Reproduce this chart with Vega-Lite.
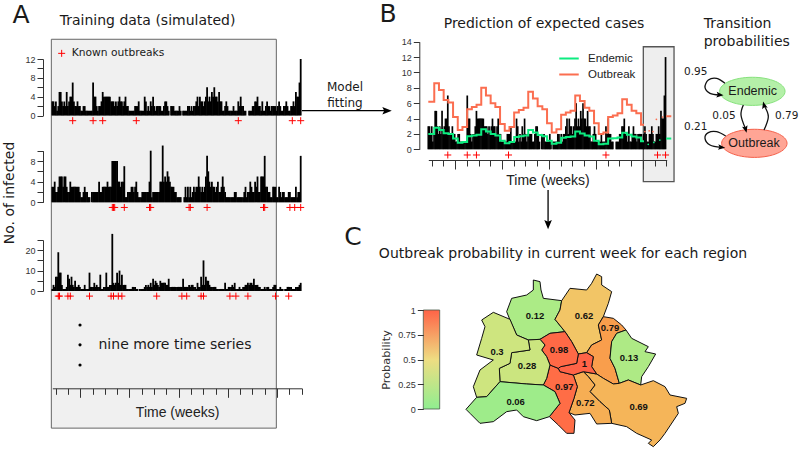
{"$schema":"https://vega.github.io/schema/vega-lite/v6.json","width":800,"height":459,"padding":0,"autosize":{"type":"none"},"background":"white",
"config":{"view":{"stroke":null},"axis":{"grid":false,"labelFont":"Liberation Sans","labelFontSize":9,"labelColor":"#333","tickColor":"#333","domainColor":"#333","tickSize":6,"labelPadding":2,"title":null,"labelOverlap":false,"labelBound":false,"labelFlush":false},"text":{"font":"DejaVu Sans","color":"#1a1a1a"}},
"resolve":{"scale":{"x":"independent","y":"independent","color":"independent"}},
"datasets":{
"s1":[{"w":0,"n":3},{"w":1,"n":3},{"w":2,"n":2},{"w":3,"n":3},{"w":4,"n":1},{"w":5,"n":2},{"w":6,"n":5},{"w":7,"n":5},{"w":8,"n":3},{"w":9,"n":2},{"w":10,"n":3},{"w":11,"n":2},{"w":12,"n":5},{"w":13,"n":2},{"w":14,"n":3},{"w":15,"n":4},{"w":16,"n":4},{"w":17,"n":7},{"w":18,"n":3},{"w":19,"n":2},{"w":20,"n":2},{"w":21,"n":3},{"w":22,"n":2},{"w":23,"n":2},{"w":24,"n":1},{"w":25,"n":1},{"w":26,"n":2},{"w":27,"n":2},{"w":28,"n":1},{"w":29,"n":1},{"w":30,"n":1},{"w":31,"n":1},{"w":32,"n":1},{"w":33,"n":1},{"w":34,"n":7},{"w":35,"n":4},{"w":36,"n":4},{"w":37,"n":2},{"w":38,"n":1},{"w":39,"n":2},{"w":40,"n":2},{"w":41,"n":3},{"w":42,"n":5},{"w":43,"n":4},{"w":44,"n":4},{"w":45,"n":4},{"w":46,"n":4},{"w":47,"n":4},{"w":48,"n":4},{"w":49,"n":3},{"w":50,"n":3},{"w":51,"n":3},{"w":52,"n":2},{"w":53,"n":3},{"w":54,"n":2},{"w":55,"n":3},{"w":56,"n":4},{"w":57,"n":3},{"w":58,"n":3},{"w":59,"n":2},{"w":60,"n":3},{"w":61,"n":4},{"w":62,"n":2},{"w":63,"n":2},{"w":64,"n":1},{"w":65,"n":1},{"w":66,"n":1},{"w":67,"n":1},{"w":68,"n":1},{"w":69,"n":2},{"w":70,"n":2},{"w":71,"n":2},{"w":72,"n":3},{"w":73,"n":1},{"w":74,"n":1},{"w":75,"n":1},{"w":76,"n":1},{"w":77,"n":4},{"w":78,"n":3},{"w":79,"n":1},{"w":80,"n":2},{"w":81,"n":1},{"w":82,"n":3},{"w":83,"n":2},{"w":84,"n":4},{"w":85,"n":2},{"w":86,"n":1},{"w":87,"n":2},{"w":88,"n":2},{"w":89,"n":2},{"w":90,"n":2},{"w":91,"n":1},{"w":92,"n":1},{"w":93,"n":2},{"w":94,"n":3},{"w":95,"n":3},{"w":96,"n":2},{"w":97,"n":1},{"w":98,"n":0},{"w":99,"n":2},{"w":100,"n":2},{"w":101,"n":2},{"w":102,"n":1},{"w":103,"n":1},{"w":104,"n":1},{"w":105,"n":1},{"w":106,"n":2},{"w":107,"n":1},{"w":108,"n":0},{"w":109,"n":1},{"w":110,"n":1},{"w":111,"n":1},{"w":112,"n":1},{"w":113,"n":2},{"w":114,"n":2},{"w":115,"n":1},{"w":116,"n":2},{"w":117,"n":1},{"w":118,"n":2},{"w":119,"n":2},{"w":120,"n":3},{"w":121,"n":4},{"w":122,"n":2},{"w":123,"n":4},{"w":124,"n":3},{"w":125,"n":3},{"w":126,"n":2},{"w":127,"n":3},{"w":128,"n":4},{"w":129,"n":6},{"w":130,"n":3},{"w":131,"n":4},{"w":132,"n":3},{"w":133,"n":5},{"w":134,"n":4},{"w":135,"n":6},{"w":136,"n":4},{"w":137,"n":4},{"w":138,"n":3},{"w":139,"n":5},{"w":140,"n":3},{"w":141,"n":3},{"w":142,"n":1},{"w":143,"n":1},{"w":144,"n":2},{"w":145,"n":3},{"w":146,"n":2},{"w":147,"n":1},{"w":148,"n":1},{"w":149,"n":1},{"w":150,"n":1},{"w":151,"n":2},{"w":152,"n":1},{"w":153,"n":1},{"w":154,"n":1},{"w":155,"n":3},{"w":156,"n":2},{"w":157,"n":4},{"w":158,"n":2},{"w":159,"n":2},{"w":160,"n":1},{"w":161,"n":1},{"w":162,"n":0},{"w":163,"n":0},{"w":164,"n":1},{"w":165,"n":1},{"w":166,"n":1},{"w":167,"n":2},{"w":168,"n":2},{"w":169,"n":3},{"w":170,"n":3},{"w":171,"n":4},{"w":172,"n":2},{"w":173,"n":2},{"w":174,"n":1},{"w":175,"n":3},{"w":176,"n":1},{"w":177,"n":1},{"w":178,"n":2},{"w":179,"n":3},{"w":180,"n":2},{"w":181,"n":2},{"w":182,"n":1},{"w":183,"n":2},{"w":184,"n":2},{"w":185,"n":2},{"w":186,"n":2},{"w":187,"n":1},{"w":188,"n":2},{"w":189,"n":3},{"w":190,"n":2},{"w":191,"n":1},{"w":192,"n":1},{"w":193,"n":2},{"w":194,"n":2},{"w":195,"n":3},{"w":196,"n":2},{"w":197,"n":1},{"w":198,"n":1},{"w":199,"n":2},{"w":200,"n":2},{"w":201,"n":3},{"w":202,"n":2},{"w":203,"n":5},{"w":204,"n":4},{"w":205,"n":4},{"w":206,"n":7},{"w":207,"n":12}],
"s2":[{"w":0,"n":3},{"w":1,"n":3},{"w":2,"n":4},{"w":3,"n":2},{"w":4,"n":2},{"w":5,"n":3},{"w":6,"n":5},{"w":7,"n":5},{"w":8,"n":5},{"w":9,"n":3},{"w":10,"n":5},{"w":11,"n":5},{"w":12,"n":3},{"w":13,"n":2},{"w":14,"n":2},{"w":15,"n":4},{"w":16,"n":3},{"w":17,"n":3},{"w":18,"n":3},{"w":19,"n":3},{"w":20,"n":3},{"w":21,"n":3},{"w":22,"n":3},{"w":23,"n":2},{"w":24,"n":1},{"w":25,"n":1},{"w":26,"n":2},{"w":27,"n":3},{"w":28,"n":2},{"w":29,"n":2},{"w":30,"n":1},{"w":31,"n":1},{"w":32,"n":0},{"w":33,"n":2},{"w":34,"n":2},{"w":35,"n":2},{"w":36,"n":2},{"w":37,"n":2},{"w":38,"n":2},{"w":39,"n":4},{"w":40,"n":2},{"w":41,"n":2},{"w":42,"n":3},{"w":43,"n":3},{"w":44,"n":3},{"w":45,"n":3},{"w":46,"n":4},{"w":47,"n":3},{"w":48,"n":3},{"w":49,"n":3},{"w":50,"n":8},{"w":51,"n":8},{"w":52,"n":8},{"w":53,"n":8},{"w":54,"n":8},{"w":55,"n":4},{"w":56,"n":4},{"w":57,"n":3},{"w":58,"n":4},{"w":59,"n":4},{"w":60,"n":7},{"w":61,"n":1},{"w":62,"n":1},{"w":63,"n":2},{"w":64,"n":2},{"w":65,"n":2},{"w":66,"n":3},{"w":67,"n":3},{"w":68,"n":2},{"w":69,"n":3},{"w":70,"n":4},{"w":71,"n":2},{"w":72,"n":1},{"w":73,"n":1},{"w":74,"n":1},{"w":75,"n":2},{"w":76,"n":2},{"w":77,"n":2},{"w":78,"n":2},{"w":79,"n":2},{"w":80,"n":2},{"w":81,"n":4},{"w":82,"n":10},{"w":83,"n":1},{"w":84,"n":2},{"w":85,"n":2},{"w":86,"n":2},{"w":87,"n":2},{"w":88,"n":2},{"w":89,"n":2},{"w":90,"n":4},{"w":91,"n":4},{"w":92,"n":11},{"w":93,"n":4},{"w":94,"n":5},{"w":95,"n":4},{"w":96,"n":6},{"w":97,"n":5},{"w":98,"n":4},{"w":99,"n":3},{"w":100,"n":3},{"w":101,"n":3},{"w":102,"n":2},{"w":103,"n":2},{"w":104,"n":1},{"w":105,"n":1},{"w":106,"n":1},{"w":107,"n":1},{"w":108,"n":0},{"w":109,"n":0},{"w":110,"n":1},{"w":111,"n":3},{"w":112,"n":1},{"w":113,"n":3},{"w":114,"n":1},{"w":115,"n":3},{"w":116,"n":1},{"w":117,"n":2},{"w":118,"n":3},{"w":119,"n":2},{"w":120,"n":3},{"w":121,"n":3},{"w":122,"n":5},{"w":123,"n":3},{"w":124,"n":2},{"w":125,"n":3},{"w":126,"n":2},{"w":127,"n":3},{"w":128,"n":5},{"w":129,"n":9},{"w":130,"n":6},{"w":131,"n":4},{"w":132,"n":3},{"w":133,"n":4},{"w":134,"n":3},{"w":135,"n":3},{"w":136,"n":2},{"w":137,"n":3},{"w":138,"n":4},{"w":139,"n":2},{"w":140,"n":2},{"w":141,"n":3},{"w":142,"n":5},{"w":143,"n":3},{"w":144,"n":2},{"w":145,"n":1},{"w":146,"n":1},{"w":147,"n":1},{"w":148,"n":1},{"w":149,"n":1},{"w":150,"n":1},{"w":151,"n":1},{"w":152,"n":2},{"w":153,"n":2},{"w":154,"n":1},{"w":155,"n":1},{"w":156,"n":1},{"w":157,"n":1},{"w":158,"n":1},{"w":159,"n":1},{"w":160,"n":2},{"w":161,"n":3},{"w":162,"n":1},{"w":163,"n":2},{"w":164,"n":2},{"w":165,"n":4},{"w":166,"n":3},{"w":167,"n":2},{"w":168,"n":2},{"w":169,"n":4},{"w":170,"n":3},{"w":171,"n":5},{"w":172,"n":2},{"w":173,"n":2},{"w":174,"n":5},{"w":175,"n":5},{"w":176,"n":5},{"w":177,"n":9},{"w":178,"n":3},{"w":179,"n":3},{"w":180,"n":2},{"w":181,"n":2},{"w":182,"n":1},{"w":183,"n":1},{"w":184,"n":3},{"w":185,"n":3},{"w":186,"n":3},{"w":187,"n":1},{"w":188,"n":1},{"w":189,"n":3},{"w":190,"n":2},{"w":191,"n":1},{"w":192,"n":2},{"w":193,"n":2},{"w":194,"n":1},{"w":195,"n":1},{"w":196,"n":1},{"w":197,"n":2},{"w":198,"n":2},{"w":199,"n":1},{"w":200,"n":1},{"w":201,"n":1},{"w":202,"n":1},{"w":203,"n":3},{"w":204,"n":1},{"w":205,"n":2},{"w":206,"n":2},{"w":207,"n":9}],
"s3":[{"w":0,"n":1},{"w":1,"n":3},{"w":2,"n":2},{"w":3,"n":7},{"w":4,"n":7},{"w":5,"n":19},{"w":6,"n":9},{"w":7,"n":9},{"w":8,"n":3},{"w":9,"n":1},{"w":10,"n":1},{"w":11,"n":1},{"w":12,"n":2},{"w":13,"n":8},{"w":14,"n":6},{"w":15,"n":3},{"w":16,"n":7},{"w":17,"n":3},{"w":18,"n":2},{"w":19,"n":5},{"w":20,"n":2},{"w":21,"n":2},{"w":22,"n":3},{"w":23,"n":2},{"w":24,"n":1},{"w":25,"n":1},{"w":26,"n":1},{"w":27,"n":3},{"w":28,"n":1},{"w":29,"n":1},{"w":30,"n":1},{"w":31,"n":9},{"w":32,"n":2},{"w":33,"n":2},{"w":34,"n":2},{"w":35,"n":4},{"w":36,"n":2},{"w":37,"n":3},{"w":38,"n":2},{"w":39,"n":2},{"w":40,"n":8},{"w":41,"n":1},{"w":42,"n":1},{"w":43,"n":2},{"w":44,"n":2},{"w":45,"n":9},{"w":46,"n":2},{"w":47,"n":2},{"w":48,"n":3},{"w":49,"n":3},{"w":50,"n":28},{"w":51,"n":4},{"w":52,"n":3},{"w":53,"n":4},{"w":54,"n":9},{"w":55,"n":4},{"w":56,"n":10},{"w":57,"n":3},{"w":58,"n":8},{"w":59,"n":3},{"w":60,"n":3},{"w":61,"n":3},{"w":62,"n":1},{"w":63,"n":1},{"w":64,"n":1},{"w":65,"n":1},{"w":66,"n":1},{"w":67,"n":2},{"w":68,"n":2},{"w":69,"n":2},{"w":70,"n":1},{"w":71,"n":1},{"w":72,"n":0},{"w":73,"n":1},{"w":74,"n":1},{"w":75,"n":1},{"w":76,"n":1},{"w":77,"n":2},{"w":78,"n":3},{"w":79,"n":2},{"w":80,"n":3},{"w":81,"n":2},{"w":82,"n":4},{"w":83,"n":2},{"w":84,"n":6},{"w":85,"n":3},{"w":86,"n":5},{"w":87,"n":4},{"w":88,"n":3},{"w":89,"n":2},{"w":90,"n":5},{"w":91,"n":4},{"w":92,"n":4},{"w":93,"n":4},{"w":94,"n":4},{"w":95,"n":3},{"w":96,"n":3},{"w":97,"n":6},{"w":98,"n":2},{"w":99,"n":2},{"w":100,"n":2},{"w":101,"n":2},{"w":102,"n":2},{"w":103,"n":2},{"w":104,"n":2},{"w":105,"n":2},{"w":106,"n":2},{"w":107,"n":2},{"w":108,"n":2},{"w":109,"n":6},{"w":110,"n":2},{"w":111,"n":2},{"w":112,"n":2},{"w":113,"n":2},{"w":114,"n":3},{"w":115,"n":2},{"w":116,"n":3},{"w":117,"n":3},{"w":118,"n":2},{"w":119,"n":2},{"w":120,"n":1},{"w":121,"n":4},{"w":122,"n":2},{"w":123,"n":2},{"w":124,"n":7},{"w":125,"n":3},{"w":126,"n":15},{"w":127,"n":3},{"w":128,"n":7},{"w":129,"n":5},{"w":130,"n":5},{"w":131,"n":3},{"w":132,"n":2},{"w":133,"n":2},{"w":134,"n":2},{"w":135,"n":2},{"w":136,"n":2},{"w":137,"n":1},{"w":138,"n":1},{"w":139,"n":1},{"w":140,"n":1},{"w":141,"n":1},{"w":142,"n":1},{"w":143,"n":1},{"w":144,"n":4},{"w":145,"n":1},{"w":146,"n":1},{"w":147,"n":2},{"w":148,"n":2},{"w":149,"n":2},{"w":150,"n":3},{"w":151,"n":2},{"w":152,"n":4},{"w":153,"n":1},{"w":154,"n":1},{"w":155,"n":1},{"w":156,"n":2},{"w":157,"n":1},{"w":158,"n":1},{"w":159,"n":2},{"w":160,"n":2},{"w":161,"n":3},{"w":162,"n":3},{"w":163,"n":4},{"w":164,"n":3},{"w":165,"n":4},{"w":166,"n":4},{"w":167,"n":3},{"w":168,"n":6},{"w":169,"n":3},{"w":170,"n":3},{"w":171,"n":3},{"w":172,"n":2},{"w":173,"n":2},{"w":174,"n":1},{"w":175,"n":1},{"w":176,"n":1},{"w":177,"n":2},{"w":178,"n":1},{"w":179,"n":2},{"w":180,"n":2},{"w":181,"n":1},{"w":182,"n":1},{"w":183,"n":1},{"w":184,"n":2},{"w":185,"n":3},{"w":186,"n":3},{"w":187,"n":1},{"w":188,"n":1},{"w":189,"n":1},{"w":190,"n":2},{"w":191,"n":1},{"w":192,"n":1},{"w":193,"n":0},{"w":194,"n":1},{"w":195,"n":1},{"w":196,"n":2},{"w":197,"n":2},{"w":198,"n":2},{"w":199,"n":2},{"w":200,"n":1},{"w":201,"n":1},{"w":202,"n":1},{"w":203,"n":2},{"w":204,"n":2},{"w":205,"n":2},{"w":206,"n":3},{"w":207,"n":4}],
"expected":[{"w":0,"n":6.2,"series":"Outbreak"},{"w":5.2,"n":8.6,"series":"Outbreak"},{"w":9.3,"n":7.7,"series":"Outbreak"},{"w":13.4,"n":6.4,"series":"Outbreak"},{"w":17.5,"n":6.1,"series":"Outbreak"},{"w":21.6,"n":4.2,"series":"Outbreak"},{"w":25.7,"n":2.5,"series":"Outbreak"},{"w":29.8,"n":2.9,"series":"Outbreak"},{"w":33.9,"n":5.2,"series":"Outbreak"},{"w":38,"n":5.5,"series":"Outbreak"},{"w":42.1,"n":5.8,"series":"Outbreak"},{"w":46.2,"n":8,"series":"Outbreak"},{"w":50.3,"n":7,"series":"Outbreak"},{"w":54.4,"n":6,"series":"Outbreak"},{"w":58.5,"n":5.5,"series":"Outbreak"},{"w":62.6,"n":3.3,"series":"Outbreak"},{"w":66.7,"n":2.4,"series":"Outbreak"},{"w":70.8,"n":2.9,"series":"Outbreak"},{"w":74.9,"n":4.8,"series":"Outbreak"},{"w":79,"n":5.1,"series":"Outbreak"},{"w":83.1,"n":5.4,"series":"Outbreak"},{"w":87.2,"n":7.5,"series":"Outbreak"},{"w":91.3,"n":6.6,"series":"Outbreak"},{"w":95.4,"n":5.6,"series":"Outbreak"},{"w":99.5,"n":5.2,"series":"Outbreak"},{"w":103.6,"n":3.4,"series":"Outbreak"},{"w":107.7,"n":2.2,"series":"Outbreak"},{"w":111.8,"n":2.6,"series":"Outbreak"},{"w":115.9,"n":4.5,"series":"Outbreak"},{"w":120,"n":4.8,"series":"Outbreak"},{"w":124.1,"n":5,"series":"Outbreak"},{"w":128.2,"n":7,"series":"Outbreak"},{"w":132.3,"n":6.3,"series":"Outbreak"},{"w":136.4,"n":5.4,"series":"Outbreak"},{"w":140.5,"n":5,"series":"Outbreak"},{"w":144.6,"n":3.4,"series":"Outbreak"},{"w":148.7,"n":2,"series":"Outbreak"},{"w":152.8,"n":2.2,"series":"Outbreak"},{"w":156.9,"n":4.2,"series":"Outbreak"},{"w":161,"n":4.4,"series":"Outbreak"},{"w":165.1,"n":4.7,"series":"Outbreak"},{"w":169.2,"n":6.5,"series":"Outbreak"},{"w":173.3,"n":5.8,"series":"Outbreak"},{"w":177.4,"n":5,"series":"Outbreak"},{"w":181.5,"n":4.7,"series":"Outbreak"},{"w":185.6,"n":3.2,"series":"Outbreak"},{"w":188.2,"n":3.2,"series":"Outbreak"},
{"w":0,"n":2,"series":"Endemic"},{"w":5.2,"n":2.8,"series":"Endemic"},{"w":9.3,"n":2.5,"series":"Endemic"},{"w":13.4,"n":2.1,"series":"Endemic"},{"w":17.5,"n":2,"series":"Endemic"},{"w":21.6,"n":1.4,"series":"Endemic"},{"w":25.7,"n":0.85,"series":"Endemic"},{"w":29.8,"n":0.95,"series":"Endemic"},{"w":33.9,"n":1.7,"series":"Endemic"},{"w":38,"n":1.8,"series":"Endemic"},{"w":42.1,"n":1.9,"series":"Endemic"},{"w":46.2,"n":2.6,"series":"Endemic"},{"w":50.3,"n":2.3,"series":"Endemic"},{"w":54.4,"n":2,"series":"Endemic"},{"w":58.5,"n":1.8,"series":"Endemic"},{"w":62.6,"n":1.1,"series":"Endemic"},{"w":66.7,"n":0.8,"series":"Endemic"},{"w":70.8,"n":0.95,"series":"Endemic"},{"w":74.9,"n":1.6,"series":"Endemic"},{"w":79,"n":1.7,"series":"Endemic"},{"w":83.1,"n":1.8,"series":"Endemic"},{"w":87.2,"n":2.5,"series":"Endemic"},{"w":91.3,"n":2.2,"series":"Endemic"},{"w":95.4,"n":1.85,"series":"Endemic"},{"w":99.5,"n":1.7,"series":"Endemic"},{"w":103.6,"n":1.1,"series":"Endemic"},{"w":107.7,"n":0.73,"series":"Endemic"},{"w":111.8,"n":0.85,"series":"Endemic"},{"w":115.9,"n":1.5,"series":"Endemic"},{"w":120,"n":1.6,"series":"Endemic"},{"w":124.1,"n":1.65,"series":"Endemic"},{"w":128.2,"n":2.3,"series":"Endemic"},{"w":132.3,"n":2.05,"series":"Endemic"},{"w":136.4,"n":1.8,"series":"Endemic"},{"w":140.5,"n":1.65,"series":"Endemic"},{"w":144.6,"n":1.1,"series":"Endemic"},{"w":148.7,"n":0.66,"series":"Endemic"},{"w":152.8,"n":0.73,"series":"Endemic"},{"w":156.9,"n":1.4,"series":"Endemic"},{"w":161,"n":1.45,"series":"Endemic"},{"w":165.1,"n":1.55,"series":"Endemic"},{"w":169.2,"n":2.15,"series":"Endemic"},{"w":173.3,"n":1.9,"series":"Endemic"},{"w":177.4,"n":1.65,"series":"Endemic"},{"w":181.5,"n":1.55,"series":"Endemic"},{"w":185.6,"n":1.05,"series":"Endemic"},{"w":188.2,"n":1.05,"series":"Endemic"}],
"map":[
{"type":"Feature","properties":{"prob":0.12},"geometry":{"type":"Polygon","coordinates":[[[490,30],[510,35],[513,60],[520,85],[575,92],[570,120],[555,148],[585,185],[540,190],[510,208],[475,210],[440,195],[420,150],[410,125],[425,85],[470,75],[490,60],[490,30]]]}},
{"type":"Feature","properties":{"prob":0.62},"geometry":{"type":"Polygon","coordinates":[[[575,92],[600,55],[650,60],[665,40],[680,12],[695,20],[695,45],[725,65],[715,100],[700,140],[685,165],[695,210],[665,225],[650,248],[625,252],[605,215],[585,185],[555,148],[570,120],[575,92]]]}},
{"type":"Feature","properties":{"prob":0.79},"geometry":{"type":"Polygon","coordinates":[[[700,140],[730,145],[755,165],[768,180],[740,190],[725,215],[720,265],[735,295],[748,340],[730,342],[700,325],[680,312],[665,290],[670,260],[650,248],[665,225],[695,210],[685,165],[700,140]]]}},
{"type":"Feature","properties":{"prob":0.13},"geometry":{"type":"Polygon","coordinates":[[[768,180],[785,205],[835,230],[825,245],[857,252],[835,290],[815,320],[812,345],[775,330],[748,340],[735,295],[720,265],[725,215],[740,190],[768,180]]]}},
{"type":"Feature","properties":{"prob":0.69},"geometry":{"type":"Polygon","coordinates":[[[640,305],[680,312],[700,325],[730,342],[748,340],[775,330],[812,345],[850,332],[885,350],[900,375],[950,385],[945,400],[920,410],[925,430],[885,490],[870,510],[850,530],[835,520],[845,510],[800,490],[770,470],[725,460],[718,420],[690,395],[660,365],[675,345],[655,320],[640,305]]]}},
{"type":"Feature","properties":{"prob":0.72},"geometry":{"type":"Polygon","coordinates":[[[610,315],[640,305],[655,320],[675,345],[660,365],[690,395],[718,420],[725,460],[680,462],[660,430],[615,435],[597,428],[612,385],[622,350],[610,315]]]}},
{"type":"Feature","properties":{"prob":0.97},"geometry":{"type":"Polygon","coordinates":[[[540,285],[565,295],[570,305],[610,315],[622,350],[612,385],[597,428],[615,450],[612,490],[590,490],[565,465],[538,440],[570,400],[555,365],[520,345],[530,325],[540,285]]]}},
{"type":"Feature","properties":{"prob":1},"geometry":{"type":"Polygon","coordinates":[[[625,252],[650,248],[670,260],[665,290],[680,312],[640,305],[610,315],[570,305],[565,295],[572,290],[620,280],[625,252]]]}},
{"type":"Feature","properties":{"prob":0.98},"geometry":{"type":"Polygon","coordinates":[[[510,208],[540,190],[585,185],[605,215],[625,252],[620,280],[572,290],[565,295],[540,285],[530,260],[515,240],[525,225],[510,208]]]}},
{"type":"Feature","properties":{"prob":0.28},"geometry":{"type":"Polygon","coordinates":[[[475,210],[510,208],[525,225],[515,240],[530,260],[540,285],[530,325],[520,345],[470,342],[390,335],[388,295],[420,280],[425,248],[480,240],[475,210]]]}},
{"type":"Feature","properties":{"prob":0.3},"geometry":{"type":"Polygon","coordinates":[[[335,150],[370,127],[420,148],[440,195],[475,210],[480,240],[425,248],[420,280],[388,295],[390,335],[350,380],[320,382],[310,350],[330,300],[370,270],[320,255],[335,205],[345,170],[335,150]]]}},
{"type":"Feature","properties":{"prob":0.06},"geometry":{"type":"Polygon","coordinates":[[[320,382],[350,380],[390,335],[470,342],[520,345],[555,365],[570,400],[538,440],[500,452],[460,440],[440,420],[410,425],[370,455],[330,460],[300,430],[288,418],[320,382]]]}}],
"mapLabels":[{"lon":495,"lat":137,"prob":"0.12"},{"lon":642,"lat":137,"prob":"0.62"},{"lon":720,"lat":173,"prob":"0.79"},{"lon":567,"lat":240,"prob":"0.98"},{"lon":777,"lat":263,"prob":"0.13"},{"lon":381,"lat":247,"prob":"0.3"},{"lon":471,"lat":288,"prob":"0.28"},{"lon":643,"lat":283,"prob":"1"},{"lon":583,"lat":350,"prob":"0.97"},{"lon":646,"lat":400,"prob":"0.72"},{"lon":806,"lat":412,"prob":"0.69"},{"lon":437,"lat":395,"prob":"0.06"}]
},
"layer":[
{"encoding":{"x":{"field":"w","type":"quantitative","scale":{"domain":[0,208],"range":[52.3,301.9],"nice":false,"padding":0},"axis":{"orient":"bottom","offset":-70.7,"zindex":1,"values":[2.8,13.05,23.3,33.55,43.8,54.05,64.3,74.55,84.8,95.05,105.3,115.55,125.8,136.05,146.3,156.55,166.8,177.05,187.3,197.55,207.8],"labels":false,"tickSize":{"condition":{"test":"indexof([23.3,64.3,105.3,146.3,187.3],datum.value)>=0","value":9},"value":6},"title":"Time (weeks)","titleFont":"Liberation Sans","titleFontSize":14,"titleFontWeight":"normal","titleColor":"#222","titlePadding":8}},
"y":{"field":"n","type":"quantitative","scale":{"domain":[0,12],"range":[115.5,59],"nice":false},"axis":{"orient":"left","offset":-43,"zindex":1,"values":[0,2,4,6,8,10,12],"labelExpr":"datum.value%4==0?datum.value:''"}}},
"layer":[
{"data":{"values":[{"w":-0.8,"w2":186.7,"n":16.19,"n2":-66.4}]},"mark":{"type":"rect","fill":"#f0f0f0","stroke":"#666","strokeWidth":1},"encoding":{"x2":{"field":"w2"},"y2":{"field":"n2"}}},
{"data":{"name":"s1"},"mark":{"type":"bar","width":1.8,"color":"#000"}},
{"data":{"values":[{"w":17,"n":-1.1},{"w":34,"n":-1.1},{"w":42,"n":-1.1},{"w":70,"n":-1.1},{"w":155,"n":-1.1},{"w":200,"n":-1.1},{"w":207,"n":-1.1},{"w":7.8,"n":13.2}]},"mark":{"type":"point","shape":"M-1,0H1M0,-1V1","filled":false,"stroke":"#f00","size":49,"strokeWidth":1,"opacity":1}},
{"data":{"values":[{"w":79.4,"n":20.07,"t":"Training data (simulated)"}]},"mark":{"type":"text","fontSize":14,"align":"center","baseline":"middle"},"encoding":{"text":{"field":"t"}}},
{"data":{"values":[{"w":-26.1,"n":19.65,"t":"A"}]},"mark":{"type":"text","fontSize":25,"align":"center","baseline":"alphabetic"},"encoding":{"text":{"field":"t"}}},
{"data":{"values":[{"w":16.2,"n":13.2,"t":"Known outbreaks"}]},"mark":{"type":"text","fontSize":10.7,"align":"left","baseline":"middle"},"encoding":{"text":{"field":"t"}}},
{"data":{"values":[{"w":-35.6,"n":-16.46,"t":"No. of infected"}]},"mark":{"type":"text","fontSize":14,"angle":270,"align":"center","baseline":"middle"},"encoding":{"text":{"field":"t"}}},
{"data":{"values":[{"w":23.1,"n":-44.5},{"w":23.1,"n":-48.7},{"w":23.1,"n":-53}]},"mark":{"type":"point","shape":"circle","filled":true,"color":"#000","size":10,"opacity":1}},
{"data":{"values":[{"w":38.5,"n":-48.7,"t":"nine more time series"}]},"mark":{"type":"text","fontSize":14,"align":"left","baseline":"middle"},"encoding":{"text":{"field":"t"}}}
]},
{"encoding":{"x":{"field":"w","type":"quantitative","scale":{"domain":[0,208],"range":[52.3,301.9],"nice":false,"padding":0},"axis":null},
"y":{"field":"n","type":"quantitative","scale":{"domain":[0,10],"range":[202.3,150.7],"nice":false},"axis":{"orient":"left","offset":-43,"zindex":1,"values":[0,2,4,6,8,10],"labelExpr":"datum.value%4==0?datum.value:''"}}},
"layer":[
{"data":{"name":"s2"},"mark":{"type":"bar","width":1.8,"color":"#000"}},
{"data":{"values":[{"w":50,"n":-1},{"w":51,"n":-1},{"w":52,"n":-1},{"w":60,"n":-1},{"w":81,"n":-1},{"w":82,"n":-1},{"w":114,"n":-1},{"w":115,"n":-1},{"w":129,"n":-1},{"w":176,"n":-1},{"w":177,"n":-1},{"w":198,"n":-1},{"w":202,"n":-1},{"w":207,"n":-1}]},"mark":{"type":"point","shape":"M-1,0H1M0,-1V1","filled":false,"stroke":"#f00","size":49,"strokeWidth":1,"opacity":1}}
]},
{"encoding":{"x":{"field":"w","type":"quantitative","scale":{"domain":[0,208],"range":[52.3,301.9],"nice":false,"padding":0},"axis":null},
"y":{"field":"n","type":"quantitative","scale":{"domain":[0,25],"range":[291,240],"nice":false},"axis":{"orient":"left","offset":-43,"zindex":1,"values":[0,5,10,15,20,25],"labelExpr":"datum.value%10==0?datum.value:''"}}},
"layer":[
{"data":{"name":"s3"},"mark":{"type":"bar","width":1.8,"color":"#000"}},
{"data":{"values":[{"w":5,"n":-2.5},{"w":6,"n":-2.5},{"w":13,"n":-2.5},{"w":15,"n":-2.5},{"w":31,"n":-2.5},{"w":49,"n":-2.5},{"w":51,"n":-2.5},{"w":55,"n":-2.5},{"w":58,"n":-2.5},{"w":87,"n":-2.5},{"w":108,"n":-2.5},{"w":112,"n":-2.5},{"w":124,"n":-2.5},{"w":126,"n":-2.5},{"w":148,"n":-2.5},{"w":153,"n":-2.5},{"w":163,"n":-2.5},{"w":186,"n":-2.5},{"w":197,"n":-2.5}]},"mark":{"type":"point","shape":"M-1,0H1M0,-1V1","filled":false,"stroke":"#f00","size":49,"strokeWidth":1,"opacity":1}}
]},
{"encoding":{"x":{"field":"w","type":"quantitative","scale":{"domain":[0,208],"range":[428.3,666.7],"nice":false,"padding":0},"axis":{"orient":"bottom","offset":-299,"zindex":1,"values":[2.8,13.05,23.3,33.55,43.8,54.05,64.3,74.55,84.8,95.05,105.3,115.55,125.8,136.05,146.3,156.55,166.8,177.05,187.3,197.55,207.8],"labels":false,"tickSize":{"condition":{"test":"indexof([23.3,64.3,105.3,146.3,187.3],datum.value)>=0","value":9},"value":6},"title":"Time (weeks)","titleFont":"Liberation Sans","titleFontSize":14,"titleFontWeight":"normal","titleColor":"#222","titlePadding":4}},
"y":{"field":"n","type":"quantitative","scale":{"domain":[0,14],"range":[149.3,41.7],"nice":false},"axis":{"orient":"left","offset":-419.3,"zindex":1,"values":[0,2,4,6,8,10,12,14]}}},
"layer":[
{"data":{"values":[{"w":187.6,"w2":214.4,"n":13.34,"n2":-4.21}]},"mark":{"type":"rect","fill":"#eeeeee","stroke":"#555","strokeWidth":1.3},"encoding":{"x2":{"field":"w2"},"y2":{"field":"n2"}}},
{"data":{"name":"s1"},"mark":{"type":"bar","width":1.7,"color":"#000"}},
{"data":{"values":[{"w":17,"n":-0.74},{"w":34,"n":-0.74},{"w":42,"n":-0.74},{"w":70,"n":-0.74},{"w":155,"n":-0.74},{"w":200,"n":-0.74},{"w":207,"n":-0.74}]},"mark":{"type":"point","shape":"M-1,0H1M0,-1V1","filled":false,"stroke":"#f00","size":49,"strokeWidth":1,"opacity":1}},
{"data":{"name":"expected"},"mark":{"type":"line","interpolate":"step-after","strokeWidth":2},"encoding":{"color":{"field":"series","type":"nominal","scale":{"domain":["Endemic","Outbreak"],"range":["#0cec80","#fb6e50"]},"legend":{"orient":"none","legendX":558,"legendY":52,"title":null,"symbolType":"stroke","symbolSize":380,"symbolStrokeWidth":2.2,"clipHeight":13,"labelFont":"Liberation Sans","labelFontSize":11.5,"labelColor":"#222","labelOffset":8,"rowPadding":3,"padding":0}}}},
{"data":{"values":[{"w":189,"n":2.3,"series":"Outbreak"},{"w":192.7,"n":2.4,"series":"Outbreak"},{"w":196,"n":2.3,"series":"Outbreak"},{"w":199,"n":3.9,"series":"Outbreak"},{"w":204.4,"n":4.2,"series":"Outbreak"},{"w":191.9,"n":0.65,"series":"Endemic"},{"w":196.8,"n":0.9,"series":"Endemic"},{"w":202,"n":1.2,"series":"Endemic"}]},"mark":{"type":"point","filled":true,"size":3,"opacity":1},"encoding":{"color":{"field":"series","type":"nominal"}}},
{"data":{"values":[{"w":207.5,"n":4.3,"series":"Outbreak"},{"w":212,"n":4.3,"series":"Outbreak"},{"w":207.5,"n":1.4,"series":"Endemic"},{"w":212,"n":1.4,"series":"Endemic"}]},"mark":{"type":"line","strokeWidth":2},"encoding":{"color":{"field":"series","type":"nominal"}}},
{"data":{"values":[{"w":101,"n":16.29,"t":"Prediction of expected cases"},{"w":117.5,"n":-13.6,"t":"Outbreak probability in current week for each region"}]},"mark":{"type":"text","fontSize":14,"align":"center","baseline":"middle"},"encoding":{"text":{"field":"t"}}},
{"data":{"values":[{"w":-35.2,"n":16.5,"t":"B"},{"w":-65.7,"n":-12.5,"t":"C"}]},"mark":{"type":"text","fontSize":25,"align":"center","baseline":"alphabetic"},"encoding":{"text":{"field":"t"}}},
{"data":{"values":[{"w":-72.7,"n":8.1,"t":"Model"},{"w":-72.7,"n":6.02,"t":"fitting"}]},"mark":{"type":"text","fontSize":12,"align":"center","baseline":"middle"},"encoding":{"text":{"field":"t"}}},
{"data":{"values":[{"w":-110.2,"w2":-37,"n":5.02,"n2":5.02},{"w":104.5,"w2":104.5,"n":-5.29,"n2":-9.8}]},"mark":{"type":"rule","color":"#000","strokeWidth":1.3},"encoding":{"x2":{"field":"w2"},"y2":{"field":"n2"}}},
{"data":{"values":[{"w":-36,"n":5.02,"heading":90},{"w":104.5,"n":-9.8,"heading":180}]},"mark":{"type":"point","shape":"M0,-1L0.8,1L0,0.6L-0.8,1Z","filled":true,"color":"#000","size":90,"opacity":1},"encoding":{"angle":{"field":"heading","type":"quantitative","scale":null}}}
]},
{"encoding":{"x":{"field":"w","type":"quantitative","scale":{"domain":[0,420],"range":[660,800],"nice":false},"axis":null},
"y":{"field":"n","type":"quantitative","scale":{"domain":[0,510],"range":[0,170],"nice":false},"axis":null}},
"layer":[
{"data":{"values":[{"w":277,"n":274}]},"mark":{"type":"point","shape":"M-1,0A1,0.43,0,1,1,1,0A1,0.43,0,1,1,-1,0Z","size":4277,"filled":true,"fill":"#b4f0a8","stroke":"#86e27c","strokeWidth":1,"opacity":1}},
{"data":{"values":[{"w":283,"n":430}]},"mark":{"type":"point","shape":"M-1,0A1,0.43,0,1,1,1,0A1,0.43,0,1,1,-1,0Z","size":4277,"filled":true,"fill":"#ffa595","stroke":"#f5604a","strokeWidth":1,"opacity":1}},
{"data":{"values":[{"w":195,"n":250,"id":"a","o":0},{"w":170,"n":235,"id":"a","o":1},{"w":145,"n":240,"id":"a","o":2},{"w":135,"n":262,"id":"a","o":3},{"w":150,"n":280,"id":"a","o":4},{"w":178,"n":285,"id":"a","o":5},{"w":197,"n":408,"id":"b","o":0},{"w":170,"n":395,"id":"b","o":1},{"w":145,"n":398,"id":"b","o":2},{"w":135,"n":415,"id":"b","o":3},{"w":150,"n":435,"id":"b","o":4},{"w":183,"n":442,"id":"b","o":5},{"w":250,"n":315,"id":"c","o":0},{"w":243,"n":345,"id":"c","o":1},{"w":256,"n":385,"id":"c","o":2},{"w":312,"n":390,"id":"d","o":0},{"w":325,"n":350,"id":"d","o":1},{"w":313,"n":318,"id":"d","o":2}]},"mark":{"type":"line","interpolate":"cardinal","color":"#111","strokeWidth":1.3},"encoding":{"detail":{"field":"id"},"order":{"field":"o"}}},
{"data":{"values":[{"w":180,"n":285,"heading":95},{"w":185,"n":442,"heading":95},{"w":257,"n":388,"heading":165},{"w":312,"n":315,"heading":345}]},"mark":{"type":"point","shape":"M0,-1L0.8,1L0,0.6L-0.8,1Z","filled":true,"color":"#000","size":50,"opacity":1},"encoding":{"angle":{"field":"heading","type":"quantitative","scale":null}}},
{"data":{"values":[{"w":278,"n":274,"t":"Endemic"},{"w":282,"n":428,"t":"Outbreak"}]},"mark":{"type":"text","font":"Liberation Sans","fontSize":12.5,"align":"center","baseline":"middle"},"encoding":{"text":{"field":"t"}}},
{"data":{"values":[{"w":107,"n":217,"t":"0.95"},{"w":192,"n":348,"t":"0.05"},{"w":380,"n":348,"t":"0.79"},{"w":107,"n":381,"t":"0.21"}]},"mark":{"type":"text","fontSize":10.5,"align":"center","baseline":"middle"},"encoding":{"text":{"field":"t"}}},
{"data":{"values":[{"w":131,"n":72,"t":"Transition"},{"w":131,"n":127,"t":"probabilities"}]},"mark":{"type":"text","fontSize":14,"align":"left","baseline":"middle"},"encoding":{"text":{"field":"t"}}}
]},
{"projection":{"type":"identity","scale":0.33333,"translate":[370,270]},
"layer":[
{"data":{"name":"map"},"mark":{"type":"geoshape","stroke":"#111","strokeWidth":1},"encoding":{"color":{"field":"properties.prob","type":"quantitative","scale":{"domain":[0,0.5,1],"range":["#90ee90","#eedd82","#ff6347"]},"legend":null}}},
{"data":{"name":"mapLabels"},"mark":{"type":"text","font":"Liberation Sans","fontWeight":"bold","fontSize":9.5,"color":"#111","align":"center","baseline":"middle"},"encoding":{"longitude":{"field":"lon","type":"quantitative"},"latitude":{"field":"lat","type":"quantitative"},"text":{"field":"prob"}}}
]},
{"data":{"values":[{"a":0,"a2":1,"p":0,"p2":1}]},
"mark":{"type":"rect","stroke":"#4a5a4a","strokeWidth":0.8,"fill":{"gradient":"linear","x1":0,"y1":1,"x2":0,"y2":0,"stops":[{"offset":0,"color":"#90ee90"},{"offset":0.5,"color":"#eedd82"},{"offset":1,"color":"#ff6347"}]}},
"encoding":{"x":{"field":"a","type":"quantitative","scale":{"domain":[0,1],"range":[423.3,439.7],"nice":false},"axis":null},"x2":{"field":"a2"},
"y":{"field":"p","type":"quantitative","scale":{"domain":[0,1],"range":[409,310],"nice":false},"axis":{"orient":"left","offset":-423.3,"zindex":1,"values":[0,0.25,0.5,0.75,1],"labelExpr":"''+datum.value","domain":false,"title":"Probability","titleFont":"DejaVu Sans","titleFontSize":11.3,"titleFontWeight":"normal","titleColor":"#333","titlePadding":6}},"y2":{"field":"p2"}}}
]}
